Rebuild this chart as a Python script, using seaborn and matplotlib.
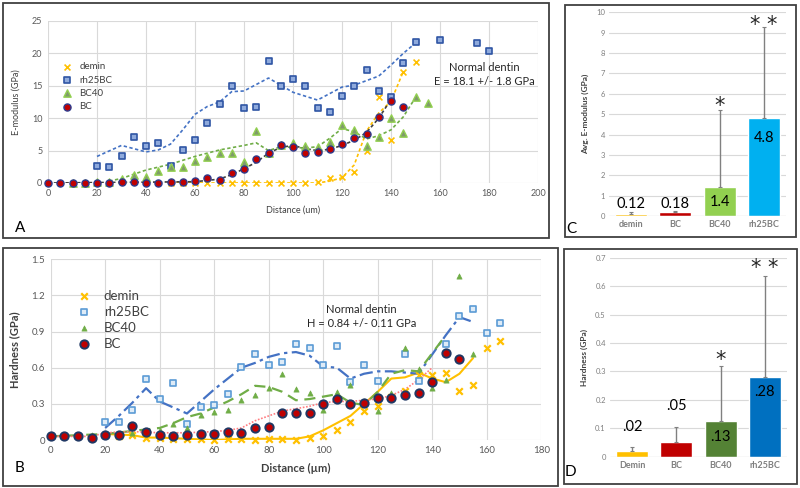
import numpy as np
import pandas as pd
import matplotlib
matplotlib.use('Agg')
import matplotlib.pyplot as plt
import seaborn as sns
from matplotlib.patches import Rectangle

sns.set_theme(style='white')
plt.rcParams['font.family'] = ['Lato', 'DejaVu Sans']

# ---------------- panel A : E-modulus vs distance ----------------
a_demin_x = [50, 55, 60, 65, 70, 75, 80, 85, 90, 95, 100, 105, 110, 115, 120, 125, 130, 135, 140, 145, 150]
a_demin_y = [0, 0, 0, 0, 0, 0, 0, 0, 0, 0, 0, 0, 0.1, 0.7, 1.0, 1.65, 5.0, 13.3, 6.6, 17.2, 18.7]
a_rh_x = [20, 25, 30, 35, 40, 45, 50, 55, 60, 65, 70, 75, 80, 85, 90, 95, 100, 105, 110, 115,
          120, 125, 130, 135, 140, 145, 150, 160, 175, 180]
a_rh_y = [2.7, 2.5, 4.2, 7.1, 5.7, 6.1, 2.7, 5.1, 6.6, 9.2, 12.2, 15.0, 11.6, 11.8, 18.9, 15.0, 16.0, 14.9, 11.6, 11.0,
          13.4, 15.0, 17.5, 14.2, 13.3, 18.5, 21.7, 22.1, 21.6, 20.4]
a_bc40_x = [10, 15, 20, 25, 30, 35, 40, 45, 50, 55, 60, 65, 70, 75, 80, 85, 90, 95, 100, 105,
            110, 115, 120, 125, 130, 135, 140, 145, 150, 155]
a_bc40_y = [0, 0, 0.1, 0.2, 0.6, 1.2, 1.0, 1.9, 2.4, 2.5, 3.4, 4.0, 4.6, 4.6, 3.3, 8.1, 4.6, 5.8, 6.2, 5.7,
            5.6, 6.3, 8.9, 8.2, 5.7, 7.1, 10.1, 7.7, 13.2, 12.4]
a_bc_x = list(range(0, 150, 5))
a_bc_y = [0, 0, 0, 0, 0, 0, 0.1, 0.1, 0, 0, 0.1, 0.2, 0.3, 0.8, 0.5, 1.6, 2.1, 3.7, 4.7, 5.8,
          5.6, 4.6, 4.8, 5.2, 6.0, 6.9, 7.6, 10.2, 12.7, 11.7]

# trend lines
a_demin_tx = [50, 110, 115, 120, 125, 130, 135, 140, 145]
a_demin_ty = [0, 0, 0.3, 0.8, 2.8, 8.0, 10.8, 12.6, 17.2]
a_rh_tx = [20, 30, 40, 45, 50, 55, 60, 65, 70, 75, 80, 85, 90, 100, 110, 120, 125, 130, 135, 140, 145, 150]
a_rh_ty = [4.1, 5.8, 4.8, 5.1, 6.0, 8.2, 10.6, 11.8, 12.5, 14.1, 14.2, 15.2, 16.2, 14.0, 12.8, 14.8, 15.1, 15.8,
           16.5, 18.2, 20.0, 21.6]
a_bc40_tx = [25, 30, 40, 50, 60, 70, 80, 85, 90, 95, 105, 110, 115, 120, 125, 130, 135, 140, 145, 150]
a_bc40_ty = [0.3, 0.7, 2.0, 2.9, 4.1, 5.1, 5.8, 6.2, 5.0, 5.6, 5.4, 5.6, 6.9, 8.4, 7.9, 6.8, 7.3, 8.2, 10.2, 13.2]
a_bc_tx = [0, 60, 65, 70, 75, 80, 85, 90, 95, 100, 105, 110, 115, 120, 125, 130, 135, 140]
a_bc_ty = [0, 0.2, 0.4, 0.6, 1.3, 2.2, 3.2, 4.6, 5.5, 5.8, 5.3, 5.0, 5.2, 5.8, 6.6, 7.8, 10.0, 12.9]

# ---------------- panel B : hardness vs distance ----------------
b_demin_x = list(range(20, 170, 5))
b_demin_y = [0.04, 0.03, 0.04, 0.02, 0.02, 0.01, 0.01, 0.01, 0.0, 0.01, 0.01, 0.0, 0.01, 0.01, 0.0,
             0.02, 0.03, 0.08, 0.15, 0.24, 0.28, 0.36, 0.41, 0.54, 0.54, 0.56, 0.41, 0.46, 0.76, 0.82]
b_rh_x = [20, 25, 30, 35, 40, 45, 50, 55, 60, 65, 70, 75, 80, 85, 90, 95, 100, 105, 110, 115,
          120, 130, 135, 145, 150, 155, 160, 165]
b_rh_y = [0.15, 0.15, 0.25, 0.51, 0.34, 0.47, 0.13, 0.27, 0.29, 0.38, 0.61, 0.71, 0.62, 0.65, 0.80, 0.76,
          0.62, 0.78, 0.48, 0.62, 0.49, 0.71, 0.49, 0.80, 1.03, 1.09, 0.89, 0.97]
b_bc40_x = list(range(0, 160, 5))
b_bc40_y = [0.03, 0.03, 0.04, 0.04, 0.05, 0.05, 0.06, 0.07, 0.08, 0.13, 0.10, 0.21, 0.23, 0.25, 0.33, 0.37,
            0.43, 0.55, 0.42, 0.39, 0.25, 0.40, 0.46, 0.32, 0.24, 0.39, 0.76, 0.59, 0.43, 0.50, 1.36, 0.71]
b_bc_x = list(range(0, 155, 5))
b_bc_y = [0.03, 0.03, 0.03, 0.02, 0.04, 0.04, 0.12, 0.07, 0.04, 0.03, 0.04, 0.05, 0.05, 0.07, 0.06, 0.10,
          0.11, 0.22, 0.22, 0.22, 0.30, 0.34, 0.30, 0.31, 0.35, 0.35, 0.37, 0.39, 0.48, 0.72, 0.67]

b_demin_tx = [20, 30, 35, 40, 50, 60, 70, 80, 90, 95, 100, 105, 110, 115, 120, 125, 130, 135, 140, 145, 150, 155]
b_demin_ty = [0.05, 0.04, 0.02, 0.02, 0.01, 0.0, 0.01, 0.01, 0.01, 0.03, 0.08, 0.14, 0.20, 0.30, 0.40,
              0.51, 0.52, 0.56, 0.51, 0.48, 0.55, 0.68]
b_rh_tx = [20, 25, 30, 35, 40, 45, 50, 55, 60, 65, 70, 75, 80, 85, 90, 95, 100, 105, 110, 115,
           120, 125, 130, 135, 140, 145, 150, 155]
b_rh_ty = [0.10, 0.20, 0.31, 0.43, 0.32, 0.27, 0.22, 0.32, 0.42, 0.51, 0.60, 0.64, 0.69, 0.72, 0.73, 0.70,
           0.61, 0.60, 0.51, 0.55, 0.57, 0.57, 0.56, 0.55, 0.71, 0.87, 1.02, 0.98]
b_bc40_tx = [0, 20, 40, 45, 50, 55, 60, 65, 70, 75, 80, 85, 90, 95, 100, 105, 110, 115, 120, 125,
             130, 135, 140, 145]
b_bc40_ty = [0.03, 0.05, 0.10, 0.14, 0.19, 0.22, 0.27, 0.32, 0.38, 0.45, 0.44, 0.40, 0.33, 0.34, 0.36,
             0.38, 0.31, 0.29, 0.40, 0.55, 0.58, 0.57, 0.72, 0.87]
b_bc_tx = [0, 15, 20, 30, 40, 50, 60, 65, 70, 75, 80, 85, 90, 95, 100, 105, 110, 115, 120, 125, 130, 135, 140]
b_bc_ty = [0.03, 0.03, 0.06, 0.07, 0.06, 0.06, 0.07, 0.08, 0.10, 0.16, 0.20, 0.24, 0.26, 0.28, 0.31,
           0.32, 0.32, 0.33, 0.34, 0.37, 0.42, 0.50, 0.60]

# ---------------- panels C and D : averages ----------------
c_groups = ['demin', 'BC', 'BC40', 'rh25BC']
c_means = [0.12, 0.18, 1.4, 4.8]
c_err = [0.06, 0.08, 3.8, 4.5]
c_labels = ['0.12', '0.18', '1.4', '4.8']
c_stars = ['', '', '*', '**']

d_groups = ['Demin', 'BC', 'BC40', 'rh25BC']
d_means = [0.02, 0.05, 0.125, 0.28]
d_err = [0.013, 0.055, 0.195, 0.355]
d_labels = ['.02', '.05', '.13', '.28']
d_stars = ['', '', '*', '**']

W, H = 800, 488
fig = plt.figure(figsize=(W / 100, H / 100), dpi=100)


def px_axes(x0, y0, x1, y1):
    # pixel box (top-left origin) -> figure axes
    return fig.add_axes([x0 / W, 1 - y1 / H, (x1 - x0) / W, (y1 - y0) / H])


def style_axes(ax, size):
    for s in ax.spines.values():
        s.set_visible(False)
    ax.grid(True, color='#D9D9D9', lw=0.8)
    ax.set_axisbelow(True)
    ax.tick_params(length=0, labelsize=size, labelcolor='#595959', pad=4)


# ---- A
axA = px_axes(48, 21, 538, 183)
style_axes(axA, 6.5)
sns.lineplot(x=a_demin_tx, y=a_demin_ty, ax=axA, color='#FFC000', lw=1.2, linestyle=(0, (2, 1.5)))
sns.lineplot(x=a_rh_tx, y=a_rh_ty, ax=axA, color='#4472C4', lw=1.2, linestyle=(0, (2, 1.5)))
sns.lineplot(x=a_bc40_tx, y=a_bc40_ty, ax=axA, color='#70AD47', lw=1.2, linestyle=(0, (2, 1.5)))
sns.lineplot(x=a_bc_tx, y=a_bc_ty, ax=axA, color='#404040', lw=1.2, linestyle=(0, (2, 1.5)))
sns.scatterplot(x=a_demin_x, y=a_demin_y, ax=axA, marker='x', color='#FFC000', s=18, linewidth=1.2,
                label='demin', clip_on=False, zorder=3)
sns.scatterplot(x=a_rh_x, y=a_rh_y, ax=axA, marker='s', color='#8FAADC', edgecolor='#2F55A4', s=15,
                linewidth=1.2, label='rh25BC', clip_on=False, zorder=3)
sns.scatterplot(x=a_bc40_x, y=a_bc40_y, ax=axA, marker='^', color='#7F9B6A', edgecolor='#92D050', s=28,
                linewidth=1.0, label='BC40', clip_on=False, zorder=3)
sns.scatterplot(x=a_bc_x, y=a_bc_y, ax=axA, marker='o', color='#C00000', edgecolor='#2E3A8C', s=26,
                linewidth=1.0, label='BC', clip_on=False, zorder=4)
axA.set_xlim(0, 200)
axA.set_ylim(0, 25)
axA.set_xticks(range(0, 201, 20))
axA.set_yticks(range(0, 26, 5))
axA.set_xlabel('Distance (um)', fontsize=6.5, color='#404040', labelpad=6)
axA.set_ylabel('E-modulus (GPa)', fontsize=6.5, color='#404040', labelpad=8)
axA.legend(loc='upper left', bbox_to_anchor=(0.01, 0.77), frameon=False, fontsize=7,
           labelspacing=0.45, handletextpad=0.3, borderaxespad=0, labelcolor='#404040')
axA.text(178, 16.7, 'Normal dentin\nE = 18.1 +/- 1.8 GPa', ha='center', va='center',
         fontsize=8, color='#262626', linespacing=1.3)

# ---- B
axB = px_axes(50.7, 259.3, 541.2, 440)
style_axes(axB, 7)
sns.lineplot(x=b_demin_tx, y=b_demin_ty, ax=axB, color='#FFC000', lw=1.5)
sns.lineplot(x=b_rh_tx, y=b_rh_ty, ax=axB, color='#4472C4', lw=1.6, linestyle=(0, (6, 2, 1.5, 2)))
sns.lineplot(x=b_bc40_tx, y=b_bc40_ty, ax=axB, color='#70AD47', lw=1.6, linestyle=(0, (5, 3)))
sns.lineplot(x=b_bc_tx, y=b_bc_ty, ax=axB, color='#FF7C80', lw=1.2, linestyle=(0, (1, 1)))
sns.scatterplot(x=b_demin_x, y=b_demin_y, ax=axB, marker='x', color='#FFC000', s=22, linewidth=1.6,
                label='demin', clip_on=False, zorder=3)
sns.scatterplot(x=b_rh_x, y=b_rh_y, ax=axB, marker='s', color='#DEEBF7', edgecolor='#5B9BD5', s=20,
                linewidth=1.2, label='rh25BC', clip_on=False, zorder=3)
sns.scatterplot(x=b_bc40_x, y=b_bc40_y, ax=axB, marker='^', color='#70AD47', edgecolor='#70AD47', s=14,
                linewidth=0.5, label='BC40', clip_on=False, zorder=3)
sns.scatterplot(x=b_bc_x, y=b_bc_y, ax=axB, marker='o', color='#C00000', edgecolor='#203864', s=36,
                linewidth=1.4, label='BC', clip_on=False, zorder=4)
axB.set_xlim(0, 180)
axB.set_ylim(0, 1.5)
axB.set_xticks(range(0, 181, 20))
axB.set_yticks([0, 0.3, 0.6, 0.9, 1.2, 1.5])
axB.set_yticklabels(['0', '0.3', '0.6', '0.9', '1.2', '1.5'])
axB.set_xlabel('Distance (µm)', fontsize=8, fontweight='bold', color='#404040', labelpad=6)
axB.set_ylabel('Hardness (GPa)', fontsize=8, fontweight='bold', color='#404040', labelpad=8)
axB.legend(loc='upper left', bbox_to_anchor=(0.03, 0.86), frameon=False, fontsize=9.5,
           labelspacing=0.3, handletextpad=0.5, borderaxespad=0, labelcolor='#404040')
axB.text(114, 1.025, 'Normal dentin\nH = 0.84 +/- 0.11 GPa', ha='center', va='center',
         fontsize=8, color='#262626', linespacing=1.3)


# ---- C and D bars
def bar_panel(ax, groups, means, errs, labels, stars, colors, label_y, star_y, ymax, ystep, ylabel, fmt):
    for s in ax.spines.values():
        s.set_visible(False)
    ax.grid(True, axis='y', color='#D9D9D9', lw=0.8)
    ax.set_axisbelow(True)
    sns.barplot(x=groups, y=means, hue=groups, palette=colors, legend=False, width=0.72,
                errorbar=None, saturation=1, ax=ax)
    ax.errorbar(x=range(len(groups)), y=means, yerr=[np.zeros(len(errs)), errs], fmt='none',
                ecolor='#808080', elinewidth=1.0, capsize=1.5, capthick=0.8)
    for i, (lab, st) in enumerate(zip(labels, stars)):
        ax.text(i, label_y[i], lab, ha='center', va='center', fontsize=10.5, color='black')
        if st:
            ax.text(i, star_y[i], ' '.join(st), ha='center', va='center', fontsize=15,
                    family='DejaVu Sans', color='#262626')
    ax.set_ylim(0, ymax)
    ticks = np.arange(0, ymax + ystep / 2, ystep)
    ax.set_yticks(ticks)
    ax.set_yticklabels([fmt(t) for t in ticks])
    ax.set_xlim(-0.5, len(groups) - 0.5)
    ax.tick_params(length=0, labelsize=5.5, labelcolor='#7F7F7F', pad=3)
    for t in ax.get_xticklabels():
        t.set_fontweight('bold')
        t.set_fontsize(6.5)
    ax.axhline(0, color='#BFBFBF', lw=0.8)
    ax.set_ylabel(ylabel, fontsize=6, fontweight='bold', color='#404040', labelpad=5)
    ax.set_xlabel('')


axC = px_axes(609, 12.3, 786, 216)
bar_panel(axC, c_groups, c_means, c_err, c_labels, c_stars,
          ['#FFC000', '#C00000', '#92D050', '#00B0F0'],
          [0.58, 0.58, 0.7, 3.85], [0, 0, 5.4, 9.4], 10, 1, 'Avg. E-modulus (GPa)',
          lambda t: f'{t:.0f}')

axD = px_axes(610, 257.7, 787, 456.7)
bar_panel(axD, d_groups, d_means, d_err, d_labels, d_stars,
          ['#FFC000', '#C00000', '#548235', '#0070C0'],
          [0.103, 0.18, 0.07, 0.228], [0, 0, 0.34, 0.663], 0.7, 0.1, 'Hardness (GPa)',
          lambda t: '0' if t == 0 else f'{t:.1f}')

# panel frames and letters
boxes = {'A': (3, 3, 549, 238), 'B': (3, 248, 558, 486), 'C': (565, 5, 796, 237), 'D': (564, 249, 797, 484)}
letters = {'A': (20, 228), 'B': (20, 468), 'C': (571, 229), 'D': (570, 472)}
for k, (x0, y0, x1, y1) in boxes.items():
    fig.add_artist(Rectangle((x0 / W, 1 - y1 / H), (x1 - x0) / W, (y1 - y0) / H,
                             transform=fig.transFigure, fill=False, ec='#404040', lw=1.3))
    lx, ly = letters[k]
    fig.text(lx / W, 1 - ly / H, k, fontsize=11, color='black', ha='center', va='center')

fig.savefig('out.png', dpi=100)
